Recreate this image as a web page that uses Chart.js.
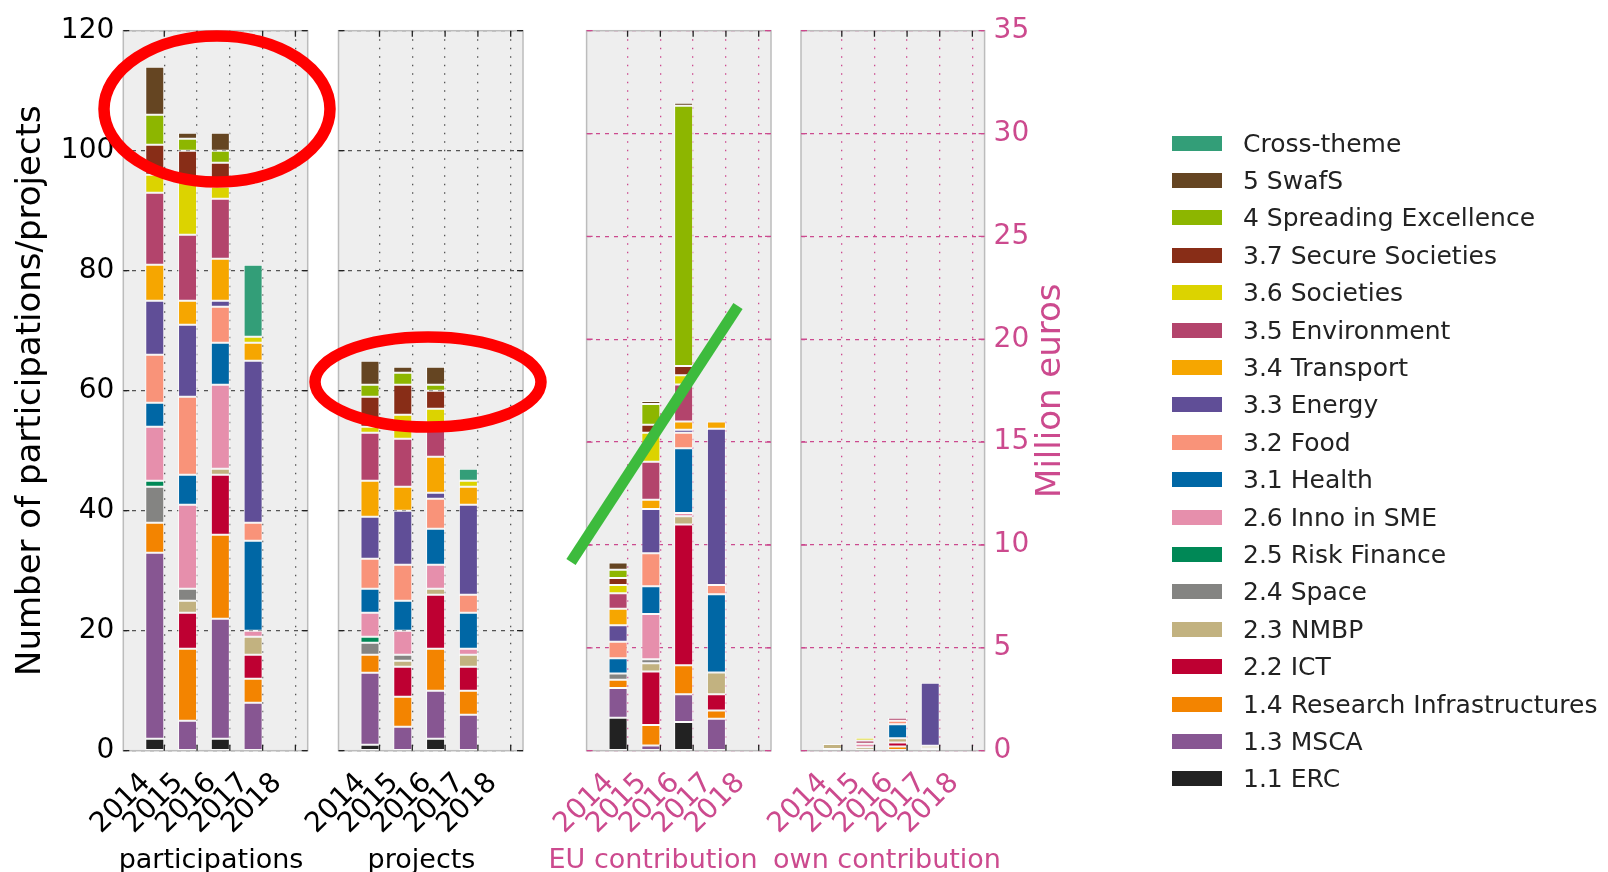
<!DOCTYPE html>
<html>
<head>
<meta charset="utf-8">
<script src="https://cdn.jsdelivr.net/npm/chart.js@4.4.0/dist/chart.umd.min.js"></script>
<style>
  html, body { margin: 0; padding: 0; background: #fff; }
  #wrap { position: relative; width: 1608px; height: 872px; overflow: hidden; font-family: "DejaVu Sans", sans-serif; }
  #wrap canvas { position: absolute; left: 0; top: 0; }
  #legend { position: absolute; left: 1172px; top: 0; }
  .row { position: absolute; left: 0; height: 30px; white-space: nowrap; }
  .sw { position: absolute; left: 0; top: 7px; width: 50px; height: 15px; }
  .lab { position: absolute; left: 71px; top: 0; font-size: 25px; line-height: 30px; color: #222; }
  #marks { position: absolute; left: 0; top: 0; }
</style>
</head>
<body>
<div id="wrap">
  <canvas id="c0" width="1608" height="872"></canvas>
  <canvas id="c1" width="1608" height="872"></canvas>
  <canvas id="c2" width="1608" height="872"></canvas>
  <canvas id="c3" width="1608" height="872"></canvas>
  <div id="legend"></div>
  <svg id="marks" width="1608" height="872">
    <ellipse cx="217" cy="109" rx="113" ry="73" fill="none" stroke="#ff0000" stroke-width="11.5"/>
    <ellipse cx="428" cy="382" rx="113" ry="45" fill="none" stroke="#ff0000" stroke-width="11.5"/>
    <line x1="571" y1="562" x2="738" y2="306" stroke="#3dbb3d" stroke-width="11"/>
  </svg>
</div>
<script>
const YEARS = ['2014', '2015', '2016', '2017', '2018'];

// stacking order, bottom to top
const SERIES = ['1.1 ERC', '1.3 MSCA', '1.4 Research Infrastructures', '2.2 ICT', '2.3 NMBP',
  '2.4 Space', '2.5 Risk Finance', '2.6 Inno in SME', '3.1 Health', '3.2 Food', '3.3 Energy',
  '3.4 Transport', '3.5 Environment', '3.6 Societies', '3.7 Secure Societies',
  '4 Spreading Excellence', '5 SwafS', 'Cross-theme'];
const COLORS = ['#222222', '#875692', '#f38400', '#be0032', '#c2b280',
  '#848482', '#008856', '#e68fac', '#0067a5', '#f99379', '#604e97',
  '#f6a600', '#b3446c', '#dcd300', '#882d17',
  '#8db600', '#654522', '#339e78'];

// one row per series (same order as SERIES), one column per year
const participations = [
  [2, 0, 2, 0, 0],
  [31, 5, 20, 8, 0],
  [5, 12, 14, 4, 0],
  [0, 6, 10, 4, 0],
  [0, 2, 1, 3, 0],
  [6, 2, 0, 0, 0],
  [1, 0, 0, 0, 0],
  [9, 14, 14, 1, 0],
  [4, 5, 7, 15, 0],
  [8, 13, 6, 3, 0],
  [9, 12, 1, 27, 0],
  [6, 4, 7, 3, 0],
  [12, 11, 10, 0, 0],
  [3, 9, 2, 1, 0],
  [5, 5, 4, 0, 0],
  [5, 2, 2, 0, 0],
  [8, 1, 3, 0, 0],
  [0, 0, 0, 12, 0]
];
const projects = [
  [1, 0, 2, 0, 0],
  [12, 4, 8, 6, 0],
  [3, 5, 7, 4, 0],
  [0, 5, 9, 4, 0],
  [0, 1, 1, 2, 0],
  [2, 1, 0, 0, 0],
  [1, 0, 0, 0, 0],
  [4, 4, 4, 1, 0],
  [4, 5, 6, 6, 0],
  [5, 6, 5, 3, 0],
  [7, 9, 1, 15, 0],
  [6, 4, 6, 3, 0],
  [8, 8, 5, 0, 0],
  [1, 4, 3, 1, 0],
  [5, 5, 3, 0, 0],
  [2, 2, 1, 0, 0],
  [4, 1, 3, 0, 0],
  [0, 0, 0, 2, 0]
];
const euContribution = [
  [1.6, 0, 1.4, 0, 0],
  [1.45, 0.25, 1.35, 1.55, 0],
  [0.4, 1.0, 1.4, 0.4, 0],
  [0, 2.6, 6.85, 0.8, 0],
  [0, 0.4, 0.4, 1.05, 0],
  [0.3, 0.2, 0, 0, 0],
  [0, 0, 0, 0, 0],
  [0, 2.2, 0.15, 0, 0],
  [0.75, 1.35, 3.15, 3.8, 0],
  [0.8, 1.6, 0.75, 0.45, 0],
  [0.8, 2.15, 0.15, 7.6, 0],
  [0.8, 0.45, 0.4, 0.35, 0],
  [0.75, 1.85, 1.8, 0, 0],
  [0.4, 1.4, 0.45, 0, 0],
  [0.35, 0.4, 0.45, 0, 0],
  [0.4, 1.0, 12.65, 0, 0],
  [0.35, 0.15, 0.15, 0, 0],
  [0, 0, 0, 0, 0]
];
const ownContribution = [
  [0, 0, 0, 0, 0],
  [0.08, 0, 0, 0, 0],
  [0, 0, 0.2, 0, 0],
  [0, 0, 0.2, 0.12, 0],
  [0.24, 0.17, 0.2, 0.12, 0],
  [0, 0, 0, 0, 0],
  [0, 0, 0, 0, 0],
  [0, 0.17, 0, 0, 0],
  [0, 0, 0.68, 0, 0],
  [0, 0, 0.17, 0, 0],
  [0, 0, 0, 3.06, 0],
  [0, 0, 0, 0, 0],
  [0, 0.15, 0.15, 0, 0],
  [0, 0.14, 0, 0, 0],
  [0, 0, 0, 0, 0],
  [0, 0, 0, 0, 0],
  [0, 0, 0, 0, 0],
  [0, 0, 0, 0, 0]
];

const countTicks = [0, 20, 40, 60, 80, 100, 120];
const euroTicks = [0, 5, 10, 15, 20, 25, 30, 35];

const W = 1608, H = 872;
const TOP = 30.7, PLOT_BOTTOM = 750.7;
const FONT = '"DejaVu Sans", sans-serif';
const PINK = '#cc4a8e';
const X_MIN = -1.25, X_MAX = 4.375, BAR_SHIFT = -0.29;

const panels = [
  { id: 'c0', values: participations, left: 123.3, right: 307.7, yMax: 120, yTicks: countTicks,
    text: '#000', grid: '#555', title: 'participations', titleX: 211, axis: 'left' },
  { id: 'c1', values: projects, left: 338.5, right: 523, yMax: 120, yTicks: countTicks,
    text: '#000', grid: '#555', title: 'projects', titleX: 421.5 },
  { id: 'c2', values: euContribution, left: 586.6, right: 771, yMax: 35, yTicks: euroTicks,
    text: PINK, grid: PINK, title: 'EU contribution', titleX: 653 },
  { id: 'c3', values: ownContribution, left: 801, right: 984.6, yMax: 35, yTicks: euroTicks,
    text: PINK, grid: PINK, title: 'own contribution', titleX: 887, axis: 'right' }
];

const panelDeco = {
  id: 'panelDeco',
  beforeDraw(chart) {
    const a = chart.chartArea, ctx = chart.ctx;
    ctx.save();
    ctx.fillStyle = '#eeeeee';
    ctx.fillRect(a.left, a.top, a.right - a.left, a.bottom - a.top);
    ctx.restore();
  },
  afterDraw(chart) {
    const p = chart.options.plugins.panelDeco;
    const a = chart.chartArea, ctx = chart.ctx;
    const xs = chart.scales.x, ys = chart.scales.y;
    ctx.save();
    ctx.strokeStyle = '#bcbcbc';
    ctx.lineWidth = 1.5;
    ctx.strokeRect(a.left, a.top, a.right - a.left, a.bottom - a.top);
    // inward tick marks
    ctx.lineWidth = 1.3;
    ctx.strokeStyle = '#222';
    xs.ticks.forEach(t => {
      const px = xs.getPixelForValue(t.value);
      ctx.beginPath();
      ctx.moveTo(px, a.bottom); ctx.lineTo(px, a.bottom - 6);
      ctx.moveTo(px, a.top); ctx.lineTo(px, a.top + 6);
      ctx.stroke();
    });
    ctx.strokeStyle = p.grid === PINK ? PINK : '#222';
    ys.ticks.forEach(t => {
      const py = ys.getPixelForValue(t.value);
      ctx.beginPath();
      ctx.moveTo(a.left, py); ctx.lineTo(a.left + 6, py);
      ctx.moveTo(a.right, py); ctx.lineTo(a.right - 6, py);
      ctx.stroke();
    });
    // axis caption under the panel
    ctx.fillStyle = p.text;
    ctx.font = '27px ' + FONT;
    ctx.textAlign = 'center';
    ctx.textBaseline = 'alphabetic';
    ctx.fillText(p.title, p.titleX, 868);
    if (p.axis === 'right') {
      ctx.translate(1051, (a.top + a.bottom) / 2);
      ctx.rotate(-Math.PI / 2);
      ctx.font = '34px ' + FONT;
      ctx.textBaseline = 'middle';
      ctx.fillText('Million euros', 0, 0);
    }
    ctx.restore();
  }
};

function makePanel(p) {
  const datasets = SERIES.map((name, s) => ({
    label: name,
    data: YEARS.map((yr, i) => ({ x: i + BAR_SHIFT, y: p.values[s][i] || null })),
    backgroundColor: COLORS[s],
    borderColor: 'rgba(255,255,255,0.75)',
    borderWidth: 1,
    borderSkipped: false,
    categoryPercentage: 1,
    barPercentage: 0.58
  }));

  let yWidth = 0, padLeft = p.left, padRight = W - p.right;
  if (p.axis === 'left') { yWidth = p.left; padLeft = 0; }
  if (p.axis === 'right') { yWidth = 86; padRight = W - p.right - 86; }

  new Chart(document.getElementById(p.id), {
    type: 'bar',
    data: { datasets },
    plugins: [panelDeco],
    options: {
      responsive: false,
      animation: false,
      events: [],
      layout: { autoPadding: false, padding: { left: padLeft, right: padRight, top: TOP, bottom: 0 } },
      plugins: {
        legend: { display: false },
        tooltip: { enabled: false },
        panelDeco: p
      },
      scales: {
        x: {
          type: 'linear',
          min: X_MIN, max: X_MAX,
          offset: false,
          stacked: true,
          z: 1,
          afterBuildTicks: s => { s.ticks = YEARS.map((yr, i) => ({ value: i })); },
          afterFit: s => { s.height = H - PLOT_BOTTOM; s.paddingLeft = 0; s.paddingRight = 0; },
          grid: { offset: false, color: p.grid, lineWidth: 1.3, drawTicks: false },
          border: { display: false, dash: [1.5, 7] },
          ticks: {
            autoSkip: false, minRotation: 45, maxRotation: 45,
            color: p.text, font: { family: FONT, size: 28 },
            padding: 16, labelOffset: -18,
            callback: v => YEARS[v]
          }
        },
        y: {
          type: 'linear',
          position: p.axis === 'right' ? 'right' : 'left',
          min: 0, max: p.yMax,
          stacked: true,
          z: 1,
          afterBuildTicks: s => { s.ticks = p.yTicks.map(v => ({ value: v })); },
          afterFit: s => { s.width = yWidth; s.paddingTop = 0; s.paddingBottom = 0; },
          grid: { color: p.grid, lineWidth: 1.3, drawTicks: false },
          border: { display: false, dash: [4, 5] },
          ticks: { display: !!p.axis, color: p.text, font: { family: FONT, size: 28 }, padding: 9 },
          title: {
            display: p.axis === 'left',
            text: 'Number of participations/projects',
            color: '#000',
            font: { family: FONT, size: 34 },
            padding: { top: 10.6, bottom: 0 }
          }
        }
      }
    }
  });
}

panels.forEach(makePanel);

// legend, top entry is the last series
const legend = document.getElementById('legend');
SERIES.slice().reverse().forEach((name, k) => {
  const row = document.createElement('div');
  row.className = 'row';
  row.style.top = (143.6 + k * 37.4 - 15) + 'px';
  const sw = document.createElement('div');
  sw.className = 'sw';
  sw.style.background = COLORS[SERIES.length - 1 - k];
  const lab = document.createElement('div');
  lab.className = 'lab';
  lab.textContent = name;
  row.appendChild(sw);
  row.appendChild(lab);
  legend.appendChild(row);
});
</script>
</body>
</html>
